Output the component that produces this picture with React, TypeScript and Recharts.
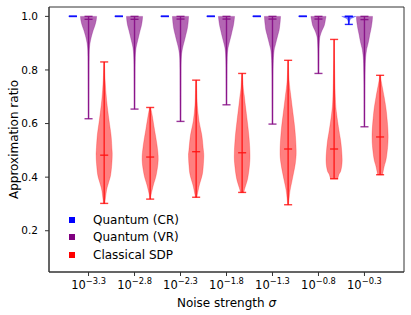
import React from 'react';
import { ScatterChart, Scatter, XAxis, YAxis, ReferenceLine, ReferenceArea } from 'recharts';

// ---------- data ----------
const positions = [0, 1, 2, 3, 4, 5, 6];
const tickExponents = ['−3.3', '−2.8', '−2.3', '−1.8', '−1.3', '−0.8', '−0.3'];
const yTicks = [0.2, 0.4, 0.6, 0.8, 1.0];
const legendLabels = ['Quantum (CR)', 'Quantum (VR)', 'Classical SDP'];

const crMin = [1.0, 1.0, 1.0, 1.0, 1.0, 1.0, 0.97];
const crMed = [1.0, 1.0, 1.0, 1.0, 1.0, 1.0, 1.0];
const crMax = [1.0, 1.0, 1.0, 1.0, 1.0, 1.0, 1.0];

const vrMin = [0.618, 0.654, 0.608, 0.67, 0.598, 0.787, 0.588];
const vrMed = [0.989, 0.989, 0.99, 0.99, 0.99, 0.99, 0.988];
const vrMax = [1.0, 1.0, 1.0, 1.0, 1.0, 1.0, 1.0];

const sdpMin = [0.302, 0.318, 0.325, 0.343, 0.297, 0.394, 0.409];
const sdpMed = [0.482, 0.475, 0.495, 0.491, 0.505, 0.505, 0.55];
const sdpMax = [0.83, 0.66, 0.762, 0.787, 0.836, 0.914, 0.78];

// violin profiles: [value, relative half-width]
const crShape6: number[][] = [[1.0, 0.88], [0.995, 0.5], [0.99, 0.2], [0.98, 0.08], [0.97, 0.03]];

const vrShape0 = [[1.0, 1.0], [0.985, 0.95], [0.965, 0.78], [0.948, 0.58], [0.93, 0.4], [0.911, 0.25], [0.886, 0.12], [0.85, 0.07], [0.75, 0.04], [0.618, 0.02]];
const vrShape1 = [[1.0, 1.0], [0.985, 0.96], [0.965, 0.85], [0.948, 0.7], [0.93, 0.55], [0.911, 0.4], [0.89, 0.24], [0.873, 0.15], [0.84, 0.08], [0.75, 0.04], [0.654, 0.02]];
const vrShape2 = [[1.0, 1.0], [0.985, 0.97], [0.965, 0.9], [0.948, 0.8], [0.93, 0.65], [0.911, 0.5], [0.89, 0.32], [0.873, 0.2], [0.848, 0.1], [0.8, 0.06], [0.7, 0.04], [0.608, 0.02]];
const vrShape3 = [[1.0, 1.0], [0.985, 0.95], [0.965, 0.85], [0.948, 0.72], [0.93, 0.58], [0.911, 0.42], [0.89, 0.25], [0.873, 0.15], [0.84, 0.08], [0.75, 0.04], [0.67, 0.02]];
const vrShape4 = [[1.0, 1.0], [0.985, 0.97], [0.965, 0.9], [0.948, 0.82], [0.93, 0.66], [0.911, 0.5], [0.89, 0.33], [0.873, 0.2], [0.836, 0.1], [0.78, 0.06], [0.7, 0.04], [0.598, 0.02]];
const vrShape5 = [[1.0, 0.94], [0.985, 0.85], [0.966, 0.72], [0.948, 0.45], [0.929, 0.22], [0.911, 0.12], [0.88, 0.07], [0.84, 0.05], [0.787, 0.03]];
const vrShape6 = [[1.0, 1.0], [0.985, 0.97], [0.965, 0.88], [0.948, 0.78], [0.93, 0.65], [0.91, 0.53], [0.89, 0.38], [0.873, 0.25], [0.836, 0.12], [0.78, 0.07], [0.7, 0.04], [0.588, 0.02]];

const sdpShape0 = [[0.83, 0.04], [0.76, 0.12], [0.687, 0.3], [0.612, 0.6], [0.557, 0.85], [0.5, 0.98], [0.482, 1.0], [0.45, 0.95], [0.408, 0.8], [0.38, 0.55], [0.352, 0.3], [0.302, 0.08]];
const sdpShape1 = [[0.66, 0.06], [0.631, 0.25], [0.575, 0.55], [0.52, 0.85], [0.465, 1.0], [0.408, 0.75], [0.371, 0.4], [0.335, 0.12], [0.318, 0.05]];
const sdpShape2 = [[0.762, 0.05], [0.724, 0.08], [0.668, 0.15], [0.61, 0.35], [0.557, 0.7], [0.5, 0.9], [0.48, 0.95], [0.44, 0.88], [0.408, 0.75], [0.371, 0.4], [0.335, 0.15], [0.325, 0.1]];
const sdpShape3 = [[0.787, 0.04], [0.732, 0.15], [0.7, 0.28], [0.668, 0.4], [0.606, 0.65], [0.55, 0.85], [0.49, 0.97], [0.45, 0.93], [0.397, 0.7], [0.36, 0.35], [0.343, 0.2]];
const sdpShape4 = [[0.836, 0.03], [0.762, 0.12], [0.7, 0.35], [0.639, 0.6], [0.575, 0.85], [0.5, 1.0], [0.453, 0.9], [0.389, 0.5], [0.352, 0.25], [0.32, 0.12], [0.297, 0.05]];
const sdpShape5 = [[0.914, 0.03], [0.836, 0.05], [0.7, 0.15], [0.639, 0.3], [0.575, 0.6], [0.527, 0.85], [0.464, 1.0], [0.426, 0.85], [0.41, 0.6], [0.394, 0.45]];
const sdpShape6 = [[0.78, 0.08], [0.762, 0.12], [0.7, 0.5], [0.639, 0.8], [0.55, 1.0], [0.476, 0.8], [0.439, 0.5], [0.409, 0.3]];

const crShapes: number[][][] = [[], [], [], [], [], [], crShape6];
const vrShapes = [vrShape0, vrShape1, vrShape2, vrShape3, vrShape4, vrShape5, vrShape6];
const sdpShapes = [sdpShape0, sdpShape1, sdpShape2, sdpShape3, sdpShape4, sdpShape5, sdpShape6];

// ---------- styling ----------
const FONT = '"DejaVu Sans", Verdana, sans-serif';
const HALF = 0.175; // max half-width of violin (x units)
const CAP = 0.0875; // half-length of caps

const methods = [
  { name: legendLabels[0], offset: -0.34, color: '#0000ff', line: '#1010ff', opacity: 0.55, shapes: crShapes, mins: crMin, meds: crMed, maxs: crMax },
  { name: legendLabels[1], offset: 0, color: '#800080', line: '#8f1f8f', opacity: 0.6, shapes: vrShapes, mins: vrMin, meds: vrMed, maxs: vrMax },
  { name: legendLabels[2], offset: 0.34, color: '#ff0000', line: '#ff2525', opacity: 0.5, shapes: sdpShapes, mins: sdpMin, meds: sdpMed, maxs: sdpMax },
];

function outline(pos: number, shape: number[][]) {
  const right = shape.map(([y, w]) => ({ x: pos + w * HALF, y }));
  const left = [...shape].reverse().map(([y, w]) => ({ x: pos - w * HALF, y }));
  return [...right, ...left];
}

function catmull(pts: { x: number; y: number }[]) {
  let d = '';
  for (let i = 0; i < pts.length - 1; i++) {
    const p0 = pts[i - 1] || pts[i];
    const p1 = pts[i];
    const p2 = pts[i + 1];
    const p3 = pts[i + 2] || p2;
    const c1x = p1.x + (p2.x - p0.x) / 6;
    const c1y = p1.y + (p2.y - p0.y) / 6;
    const c2x = p2.x - (p3.x - p1.x) / 6;
    const c2y = p2.y - (p3.y - p1.y) / 6;
    d += ` C${c1x},${c1y} ${c2x},${c2y} ${p2.x},${p2.y}`;
  }
  return d;
}

const makeViolin = (color: string, opacity: number) => (props: any) => {
  const pts = (props.points || []).filter((p: any) => p && p.x != null && p.y != null);
  if (pts.length < 4) return <g />;
  const n = Math.floor(pts.length / 2);
  const r = pts.slice(0, n);
  const l = pts.slice(n);
  const d = `M${r[0].x},${r[0].y}` + catmull(r) + ` L${l[0].x},${l[0].y}` + catmull(l) + ' Z';
  return <path d={d} fill={color} fillOpacity={opacity} stroke={color} strokeOpacity={opacity * 0.6} strokeWidth={0.8} />;
};

const NoShape = () => <g />;

const XTick = (props: any) => {
  const { x, y, payload } = props;
  const exp = tickExponents[payload.value];
  return (
    <text x={x} y={y} textAnchor="middle" fontFamily={FONT} fontSize={11.5} fill="#000">
      <tspan dy={10.5}>10</tspan>
      <tspan dy={-5} fontSize={8.3}>{exp}</tspan>
    </text>
  );
};

const YLabel = (props: any) => {
  const vb = props.viewBox;
  const cx = vb.x + 13.5;
  const cy = vb.y + vb.height / 2;
  return (
    <text x={cx} y={cy} transform={`rotate(-90, ${cx}, ${cy})`} textAnchor="middle" dominantBaseline="central" fontFamily={FONT} fontSize={12} fill="#000">
      Approximation ratio
    </text>
  );
};

const XLabel = (props: any) => {
  const vb = props.viewBox;
  return (
    <text x={vb.x + vb.width / 2} y={vb.y + 34.5} textAnchor="middle" fontFamily={FONT} fontSize={12} fill="#000">
      Noise strength <tspan fontStyle="italic">σ</tspan>
    </text>
  );
};

export default function App() {
  const lines: any[] = [];
  methods.forEach((m, mi) => {
    positions.forEach((p, i) => {
      const c = p + m.offset;
      const segs = [
        [{ x: c, y: m.mins[i] }, { x: c, y: m.maxs[i] }],
        [{ x: c - CAP, y: m.mins[i] }, { x: c + CAP, y: m.mins[i] }],
        [{ x: c - CAP, y: m.maxs[i] }, { x: c + CAP, y: m.maxs[i] }],
        [{ x: c - CAP, y: m.meds[i] }, { x: c + CAP, y: m.meds[i] }],
      ];
      segs.forEach((s, si) => {
        lines.push(
          <ReferenceLine key={`l-${mi}-${i}-${si}`} segment={s as any} stroke={m.line} strokeWidth={1.4} strokeOpacity={0.9} ifOverflow="visible" />
        );
      });
    });
  });

  return (
    <div style={{ position: 'absolute', left: 0, top: 0, width: 411, height: 315, background: '#fff' }}>
      <ScatterChart width={411} height={315} margin={{ top: 7, right: 7, bottom: 0, left: 0 }}>
        <XAxis
          type="number"
          dataKey="x"
          domain={[-0.86, 6.86]}
          ticks={positions}
          allowDataOverflow
          height={43}
          tickSize={4}
          tickMargin={2}
          tick={<XTick />}
          axisLine={{ stroke: '#333' }}
          tickLine={{ stroke: '#333' }}
          label={<XLabel />}
        />
        <YAxis
          type="number"
          dataKey="y"
          domain={[0.046, 1.035]}
          ticks={yTicks}
          allowDataOverflow
          width={49}
          tickSize={4}
          tickMargin={7}
          tickFormatter={(v: number) => v.toFixed(1)}
          tick={{ fontFamily: FONT, fontSize: 10.5, fill: '#000' }}
          axisLine={{ stroke: '#333' }}
          tickLine={{ stroke: '#333' }}
          label={<YLabel />}
        />
        <ReferenceArea x1={-0.86} x2={6.86} y1={0.046} y2={1.035} fill="none" stroke="#333" strokeWidth={1} ifOverflow="visible" />
        {methods.map((m, mi) =>
          positions.map((p, i) =>
            m.shapes[i].length > 0 ? (
              <Scatter
                key={`v-${mi}-${i}`}
                data={outline(p + m.offset, m.shapes[i])}
                shape={<NoShape />}
                line={makeViolin(m.color, m.opacity)}
                lineType="joint"
                isAnimationActive={false}
              />
            ) : null
          )
        )}
        {lines}
      </ScatterChart>
      <div style={{ position: 'absolute', left: 66, top: 211, fontFamily: FONT, fontSize: 12, color: '#000' }}>
        {methods.map((m) => (
          <div key={m.name} style={{ display: 'flex', alignItems: 'center', height: 17.5 }}>
            <span style={{ display: 'inline-block', width: 6, height: 6, background: m.color, marginLeft: 2.5, marginRight: 18.5 }} />
            <span>{m.name}</span>
          </div>
        ))}
      </div>
    </div>
  );
}
